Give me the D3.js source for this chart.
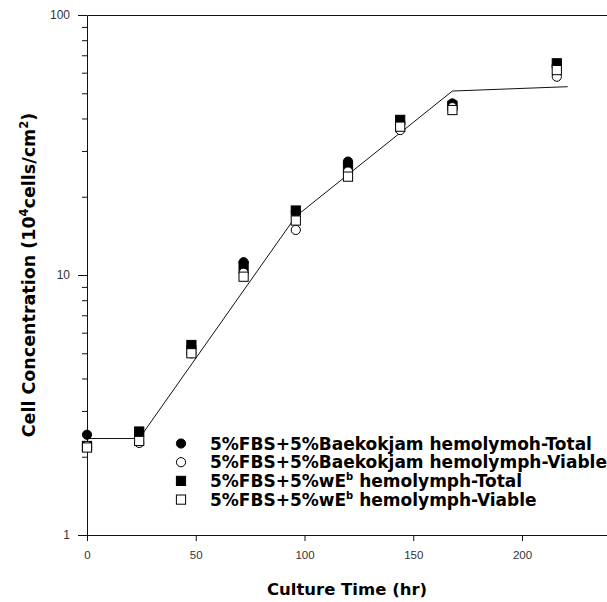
<!DOCTYPE html>
<html>
<head>
<meta charset="utf-8">
<script src="https://cdn.jsdelivr.net/npm/d3@7"></script>
<style>
  html, body { margin: 0; padding: 0; background: #fff; }
  svg { display: block; }
</style>
</head>
<body>
<svg id="chart" width="607" height="602"></svg>
<script>
// ---- data ----
const hours = [0, 24, 48, 72, 96, 120, 144, 168, 216];
const baekTotal  = [2.43, 2.48, 5.3, 11.2, 17.5, 27.3, 38.4, 45.7, 64.0];
const baekViable = [2.2, 2.26, 5.0, 10.2, 14.9, 25.0, 36.1, 44.2, 57.9];
const wTotal     = [2.2, 2.5, 5.38, 10.8, 17.7, 26.1, 39.5, 44.8, 65.2];
const wViable    = [2.17, 2.3, 5.0, 9.85, 16.2, 23.9, 37.2, 43.1, 61.4];
// fitted growth line (break points)
const fitHours  = [0, 24, 96, 168, 221];
const fitValues = [2.35, 2.35, 16.8, 51, 53];

const xTicks = [0, 50, 100, 150, 200];
const yMajorTicks = [1, 10, 100];
const yMinorTicks = [2, 3, 4, 5, 6, 7, 8, 9, 20, 30, 40, 50, 60, 70, 80, 90];

const legendLabels = [
  ["5%FBS+5%Baekokjam hemolymoh-Total", null, ""],
  ["5%FBS+5%Baekokjam hemolymph-Viable", null, ""],
  ["5%FBS+5%wE", "b", " hemolymph-Total"],
  ["5%FBS+5%wE", "b", " hemolymph-Viable"]
];

// ---- drawing ----
const svg = d3.select("#chart");
svg.append("rect").attr("width", 607).attr("height", 602).attr("fill", "#fff");

const x = d3.scaleLinear().domain([0, 240]).range([87, 609]);
const y = d3.scaleLog().domain([1, 100]).range([535, 15]);

const tickFont = "'Liberation Sans', Arial, sans-serif";
const boldFont = "'DejaVu Sans', sans-serif";

// y axis minor ticks
svg.append("g").attr("transform", `translate(${x(0)},0)`)
  .call(d3.axisLeft(y).tickValues(yMinorTicks).tickSize(5).tickFormat(""))
  .call(g => g.select(".domain").remove())
  .call(g => g.selectAll("line").attr("stroke", "#111"));

// y axis major
svg.append("g").attr("transform", `translate(${x(0)},0)`)
  .call(d3.axisLeft(y).tickValues(yMajorTicks).tickSize(9).tickSizeOuter(0).tickFormat(d3.format("d")))
  .call(g => g.select(".domain").attr("stroke", "#111"))
  .call(g => g.selectAll("line").attr("stroke", "#111"))
  .call(g => g.selectAll("text").attr("font-family", tickFont).attr("font-size", 12)
      .attr("fill", "#333").attr("x", -17));

// x axis
svg.append("g").attr("transform", `translate(0,${y(1)})`)
  .call(d3.axisBottom(x).tickValues(xTicks).tickSize(6).tickSizeOuter(0))
  .call(g => g.select(".domain").attr("stroke", "#111"))
  .call(g => g.selectAll("line").attr("stroke", "#111"))
  .call(g => g.selectAll("text").attr("font-family", tickFont).attr("font-size", 11.5)
      .attr("fill", "#333").attr("dy", "0.71em").attr("y", 16));

// top border line
svg.append("g").attr("transform", `translate(0,${y(100)})`)
  .call(d3.axisTop(x).tickValues([]).tickSizeOuter(0))
  .call(g => g.select(".domain").attr("stroke", "#111"));

// fit line
const line = d3.line().x((d, i) => x(fitHours[i])).y(d => y(d));
svg.append("path").datum(fitValues)
  .attr("d", line).attr("fill", "none").attr("stroke", "#111").attr("stroke-width", 1);

// markers
const series = [
  { vals: baekTotal,  shape: "circle", fill: "#000" },
  { vals: wTotal,     shape: "square", fill: "#000" },
  { vals: baekViable, shape: "circle", fill: "#fff" },
  { vals: wViable,    shape: "square", fill: "#fff" }
];
const legendSeries = [series[0], series[2], series[1], series[3]];

function drawMarker(g, shape, fill, cx, cy) {
  if (shape === "circle") {
    g.append("circle").attr("cx", cx).attr("cy", cy).attr("r", 4.6)
      .attr("fill", fill).attr("stroke", "#000").attr("stroke-width", 1);
  } else {
    g.append("rect").attr("x", cx - 4.6).attr("y", cy - 4.6).attr("width", 9.2).attr("height", 9.2)
      .attr("fill", fill).attr("stroke", "#000").attr("stroke-width", 1);
  }
}

const pts = svg.append("g");
series.forEach(s => {
  s.vals.forEach((v, i) => drawMarker(pts, s.shape, s.fill, x(hours[i]), y(v)));
});

// legend
const lg = svg.append("g");
legendLabels.forEach((lab, i) => {
  const cy = 443.5 + i * 18.7;
  drawMarker(lg, legendSeries[i].shape, legendSeries[i].fill, 181, cy);
  const t = lg.append("text").attr("x", 210).attr("y", cy + 6)
    .attr("font-family", boldFont).attr("font-weight", "bold").attr("font-size", 17).attr("fill", "#000");
  t.append("tspan").text(lab[0]);
  if (lab[1]) {
    t.append("tspan").attr("font-size", 10).attr("dy", -7).text(lab[1]);
    t.append("tspan").attr("dy", 7).text(lab[2]);
  }
});

// axis titles
svg.append("text").attr("x", 347).attr("y", 595).attr("text-anchor", "middle")
  .attr("font-family", boldFont).attr("font-weight", "bold").attr("font-size", 16.5).attr("fill", "#000")
  .text("Culture Time (hr)");

const yt = svg.append("text").attr("transform", "translate(35,275) rotate(-90)")
  .attr("text-anchor", "middle")
  .attr("font-family", boldFont).attr("font-weight", "bold").attr("font-size", 17.5).attr("fill", "#000");
yt.append("tspan").text("Cell Concentration (10");
yt.append("tspan").attr("font-size", 11.5).attr("dy", -7).text("4");
yt.append("tspan").attr("dy", 7).text("cells/cm");
yt.append("tspan").attr("font-size", 11.5).attr("dy", -7).text("2");
yt.append("tspan").attr("dy", 7).text(")");
</script>
</body>
</html>
